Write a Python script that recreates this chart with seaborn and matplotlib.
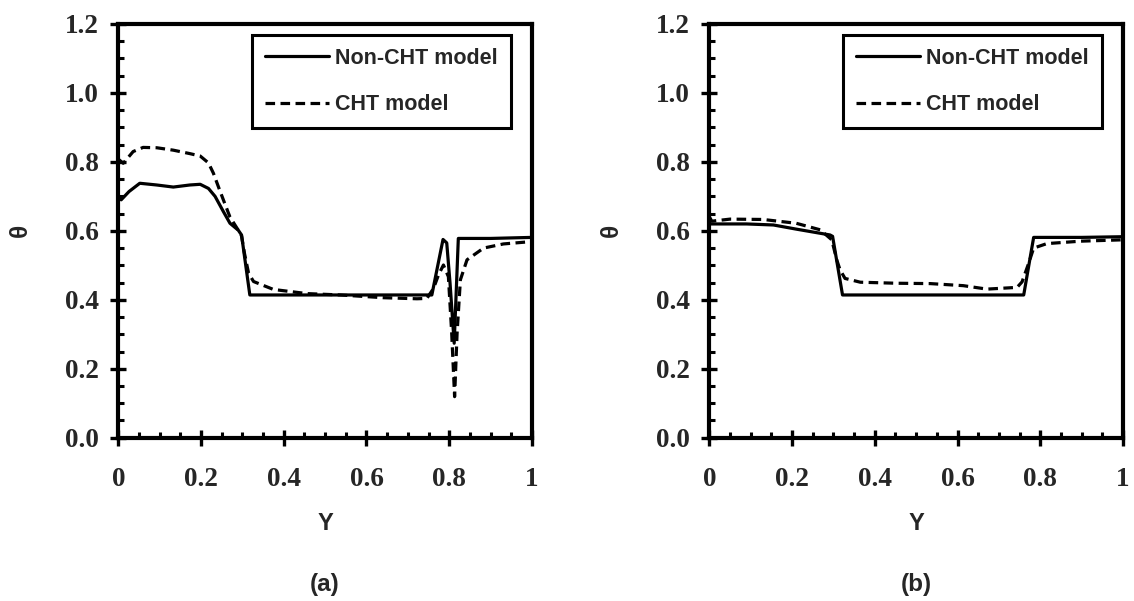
import matplotlib
matplotlib.use("Agg")
import matplotlib.pyplot as plt
import seaborn as sns
from matplotlib.ticker import MultipleLocator, FixedLocator

# panel (a)
a_non_x = [0, 0.007, 0.026, 0.052, 0.093, 0.133, 0.173, 0.198, 0.218, 0.234, 0.254, 0.27, 0.29,
           0.298, 0.318, 0.5, 0.758, 0.785, 0.794, 0.802, 0.812, 0.822, 0.9, 1.0]
a_non_y = [0.70, 0.69, 0.714, 0.738, 0.733, 0.727, 0.733, 0.735, 0.723, 0.70, 0.656, 0.622, 0.602,
           0.588, 0.414, 0.414, 0.414, 0.575, 0.565, 0.448, 0.274, 0.578, 0.578, 0.581]
a_cht_x = [0, 0.012, 0.036, 0.06, 0.093, 0.133, 0.173, 0.198, 0.218, 0.23, 0.242, 0.254, 0.27, 0.29,
           0.298, 0.305, 0.315, 0.327, 0.375, 0.456, 0.537, 0.642, 0.722, 0.746, 0.762, 0.774, 0.786,
           0.798, 0.806, 0.813, 0.819, 0.827, 0.843, 0.883, 0.931, 1.0]
a_cht_y = [0.808, 0.796, 0.83, 0.842, 0.841, 0.834, 0.824, 0.817, 0.797, 0.767, 0.728, 0.690, 0.64, 0.602,
           0.585, 0.535, 0.477, 0.453, 0.43, 0.418, 0.414, 0.406, 0.403, 0.404, 0.433, 0.472, 0.501,
           0.467, 0.303, 0.119, 0.303, 0.458, 0.516, 0.55, 0.562, 0.569]

# panel (b)
b_non_x = [0, 0.09, 0.155, 0.21, 0.292, 0.298, 0.322, 0.5, 0.76, 0.784, 0.9, 1.0]
b_non_y = [0.62, 0.62, 0.617, 0.605, 0.588, 0.584, 0.414, 0.414, 0.414, 0.581, 0.581, 0.583]
b_cht_x = [0, 0.006, 0.05, 0.13, 0.21, 0.268, 0.296, 0.308, 0.316, 0.328, 0.365, 0.453, 0.534, 0.614,
           0.671, 0.744, 0.756, 0.772, 0.784, 0.816, 0.897, 1.0]
b_cht_y = [0.641, 0.628, 0.634, 0.633, 0.622, 0.603, 0.574, 0.516, 0.487, 0.462, 0.451, 0.448, 0.447, 0.441,
           0.431, 0.436, 0.452, 0.506, 0.55, 0.563, 0.57, 0.574]

series_names = ["Non-CHT model", "CHT model"]
x_ticks = [0, 0.2, 0.4, 0.6, 0.8, 1.0]
x_tick_labels = ["0", "0.2", "0.4", "0.6", "0.8", "1"]
y_ticks = [0.0, 0.2, 0.4, 0.6, 0.8, 1.0, 1.2]
y_tick_labels = ["0.0", "0.2", "0.4", "0.6", "0.8", "1.0", "1.2"]
panel_labels = ["(a)", "(b)"]

sns.set_style("ticks")
plt.rcParams["font.family"] = ["Liberation Sans", "DejaVu Sans"]

fig = plt.figure(figsize=(11.34, 6.01), dpi=100)
ax_a = fig.add_axes([0.1043, 0.2717, 0.3648, 0.6884])
ax_b = fig.add_axes([0.6255, 0.2717, 0.3648, 0.6884])

panels = [
    (ax_a, a_non_x, a_non_y, a_cht_x, a_cht_y),
    (ax_b, b_non_x, b_non_y, b_cht_x, b_cht_y),
]

serif = {"family": "Liberation Serif", "weight": "bold", "size": 19.5}

for i, (ax, nx, ny, cx, cy) in enumerate(panels):
    sns.lineplot(x=nx, y=ny, ax=ax, color="black", linewidth=2.3, label=series_names[0],
                 estimator=None, sort=False)
    sns.lineplot(x=cx, y=cy, ax=ax, color="black", linewidth=2.3, label=series_names[1],
                 estimator=None, sort=False)
    ax.lines[-1].set_dashes([3, 1.7])
    for ln in ax.lines:
        ln.set_solid_joinstyle("round")
        ln.set_dash_joinstyle("round")

    ax.set_xlim(0, 1)
    ax.set_ylim(0, 1.2)
    ax.xaxis.set_major_locator(FixedLocator(x_ticks))
    ax.yaxis.set_major_locator(FixedLocator(y_ticks))
    ax.xaxis.set_minor_locator(MultipleLocator(0.05))
    ax.yaxis.set_minor_locator(MultipleLocator(0.05))
    ax.set_xticklabels(x_tick_labels, fontdict=serif)
    ax.set_yticklabels(y_tick_labels, fontdict=serif)
    ax.tick_params(which="major", direction="inout", length=11.5, width=2.4, color="black")
    ax.tick_params(which="minor", direction="in", length=4.3, width=2.2, color="black")
    ax.tick_params(axis="x", which="major", pad=15)
    ax.tick_params(axis="y", which="major", pad=8)
    for sp in ax.spines.values():
        sp.set_visible(True)
        sp.set_linewidth(3)
        sp.set_color("black")

    ax.set_xlabel("Y", fontsize=17, fontweight="bold")
    ax.set_ylabel("θ", fontsize=17.5, fontweight="bold")
    ax.xaxis.set_label_coords(0.5, -0.18)
    ax.yaxis.set_label_coords(-0.21, 0.5)

    leg = ax.legend(loc="upper right", bbox_to_anchor=(0.9485, 0.9734), borderaxespad=0,
                    prop={"family": "Liberation Sans", "weight": "bold", "size": 15.5},
                    handlelength=3.0, handletextpad=0.28, labelspacing=1.17, borderpad=0.6,
                    fancybox=False, framealpha=1, edgecolor="black")
    leg.get_frame().set_linewidth(2.2)

    fig.text(ax.get_position().x0 + ax.get_position().width / 2, 0.027, panel_labels[i],
             ha="center", va="center", fontsize=17.5, fontweight="bold")

fig.savefig("out.png", dpi=100)
